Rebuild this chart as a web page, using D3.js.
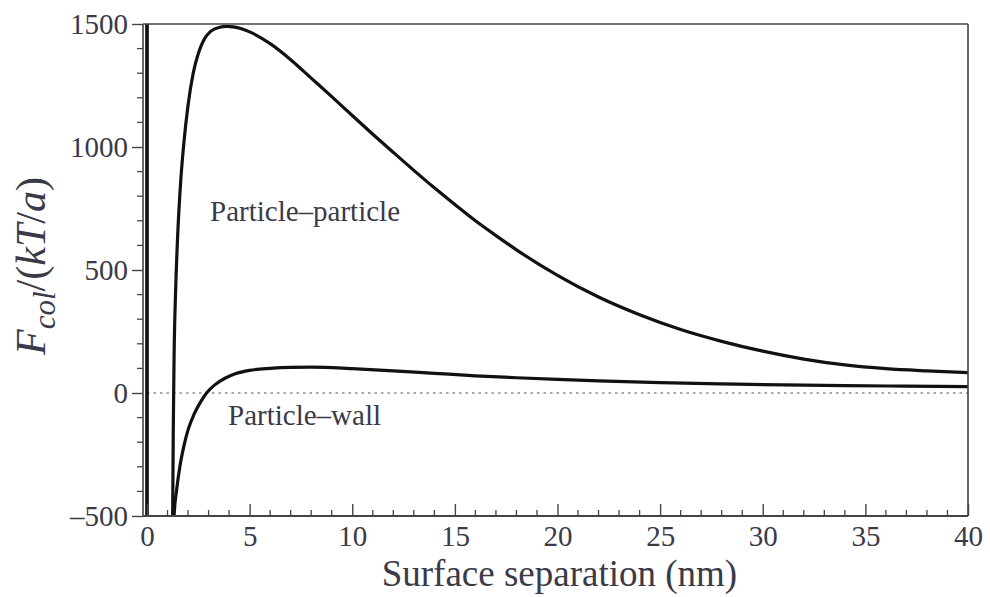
<!DOCTYPE html>
<html><head><meta charset="utf-8">
<script src="https://cdn.jsdelivr.net/npm/d3@7"></script>
<style>
html,body{margin:0;padding:0;background:#fff;}
svg{display:block;}
</style></head>
<body>
<svg id="chart" width="990" height="597"></svg>
<script>
// ---- data ----
const xTicks = [0, 5, 10, 15, 20, 25, 30, 35, 40];
const yTicks = [-500, 0, 500, 1000, 1500];
// particle–particle: surface separation (nm) / force (kT/a)
const ppX = [0, 0, 1.22, 1.25, 1.28, 1.32, 1.4, 1.5, 1.65, 1.8, 2.0, 2.25, 2.5, 2.8, 3.1, 3.5, 3.9, 4.2, 4.6, 5, 6, 7, 8, 9, 10, 11, 12, 13, 14, 15, 16, 17, 18, 20, 22, 24, 26, 28, 30, 32, 34, 36, 38, 40];
const ppY = [1700, -700, -700, -500, -150, 150, 430, 650, 870, 1020, 1170, 1300, 1380, 1440, 1470, 1486, 1490, 1488, 1481, 1468, 1420, 1355, 1280, 1205, 1128, 1052, 978, 905, 834, 766, 700, 640, 582, 478, 390, 318, 258, 210, 170, 138, 114, 99, 90, 83];
// particle–wall
const pwX = [0, 0, 1.25, 1.32, 1.45, 1.6, 1.8, 2.0, 2.3, 2.6, 2.9, 3.3, 3.8, 4.3, 5, 6, 7, 8, 9, 10, 12, 14, 16, 18, 20, 22, 25, 28, 31, 34, 37, 40];
const pwY = [1700, -700, -700, -500, -390, -300, -215, -150, -85, -38, 0, 33, 60, 78, 92, 100, 104, 105, 103, 99, 90, 80, 70, 62, 55, 49, 42, 37, 33, 30, 28, 26];
const seriesNames = ["Particle–particle", "Particle–wall"];

// ---- layout ----
const svg = d3.select("#chart");
const x = d3.scaleLinear().domain([0, 40]).range([147, 968]);
const y = d3.scaleLinear().domain([-500, 1500]).range([516, 24]);
const font = "'Liberation Serif','Times New Roman',serif";
const axisColor = "#444";
const textColor = "#3a3a48";

svg.append("defs").append("clipPath").attr("id", "clip")
  .append("rect").attr("x", 143).attr("y", 24).attr("width", 968 - 143).attr("height", 516 - 24);

// zero dotted line
svg.append("line")
  .attr("x1", x(0)).attr("x2", x(40)).attr("y1", y(0)).attr("y2", y(0))
  .attr("stroke", "#555").attr("stroke-width", 1.2).attr("stroke-dasharray", "2.5,4");

// curves
const line = d3.line().x(d => x(d[0])).y(d => y(d[1])).curve(d3.curveMonotoneX);
const lineRaw = d3.line().x(d => x(d[0])).y(d => y(d[1]));
function curvePath(xs, ys) {
  const pts = xs.map((v, i) => [v, ys[i]]);
  return lineRaw(pts.slice(0, 3)) + line(pts.slice(2)).replace(/^M/, "L");
}
const g = svg.append("g").attr("clip-path", "url(#clip)");
[[ppX, ppY], [pwX, pwY]].forEach(([xs, ys]) => {
  g.append("path").attr("d", curvePath(xs, ys))
    .attr("fill", "none").attr("stroke", "#111").attr("stroke-width", 3.2)
    .attr("stroke-linejoin", "round");
});

// frame
svg.append("line").attr("x1", 143).attr("x2", 968).attr("y1", y(1500)).attr("y2", y(1500))
  .attr("stroke", axisColor).attr("stroke-width", 1.6);
svg.append("line").attr("x1", 968).attr("x2", 968).attr("y1", 24).attr("y2", 516)
  .attr("stroke", axisColor).attr("stroke-width", 1.6);

// x axis (ticks inward)
const xAxis = d3.axisBottom(x).tickValues(xTicks).tickSizeInner(-12).tickSizeOuter(0).tickPadding(9);
const gx = svg.append("g").attr("transform", `translate(0,516)`).call(xAxis);
gx.select(".domain").attr("d", `M143,0H968`).attr("stroke", axisColor).attr("stroke-width", 2);
gx.selectAll(".tick line").attr("stroke", axisColor).attr("stroke-width", 1.4);
gx.selectAll(".tick text").attr("font-family", font).attr("font-size", 29).attr("fill", textColor);
const xMinor = d3.range(1, 40).filter(v => v % 5 !== 0);
gx.selectAll(".minor").data(xMinor).enter().append("line")
  .attr("x1", d => x(d)).attr("x2", d => x(d)).attr("y1", 0).attr("y2", -6)
  .attr("stroke", axisColor).attr("stroke-width", 1.3);

// y axis (ticks outward)
const yAxis = d3.axisLeft(y).tickValues(yTicks).tickSizeInner(11).tickSizeOuter(0).tickPadding(4)
  .tickFormat(d => d < 0 ? "\u2013" + Math.abs(d) : d);
const gy = svg.append("g").attr("transform", `translate(143,0)`).call(yAxis);
gy.select(".domain").attr("d", `M0,24V516`).attr("stroke", axisColor).attr("stroke-width", 1.6);
gy.selectAll(".tick line").attr("stroke", axisColor).attr("stroke-width", 1.4);
gy.selectAll(".tick text").attr("font-family", font).attr("font-size", 29).attr("fill", textColor);
const yMinor = d3.range(-400, 1500, 100).filter(v => v % 500 !== 0);
gy.selectAll(".minor").data(yMinor).enter().append("line")
  .attr("x1", 0).attr("x2", -6).attr("y1", d => y(d)).attr("y2", d => y(d))
  .attr("stroke", axisColor).attr("stroke-width", 1.3);

// axis titles
svg.append("text").attr("x", (x(-0.2) + x(40)) / 2 + 4).attr("y", 586)
  .attr("text-anchor", "middle").attr("font-family", font).attr("font-size", 37)
  .attr("fill", textColor).text("Surface separation (nm)");

const yt = svg.append("text").attr("transform", "translate(45,266) rotate(-90)")
  .attr("text-anchor", "middle").attr("font-family", font).attr("font-size", 42)
  .attr("fill", textColor);
yt.append("tspan").attr("font-style", "italic").text("F");
yt.append("tspan").attr("font-style", "italic").attr("font-size", 31).attr("dy", 10).text("col");
yt.append("tspan").attr("dy", -10).text("/(");
yt.append("tspan").attr("font-style", "italic").text("kT");
yt.append("tspan").text("/");
yt.append("tspan").attr("font-style", "italic").text("a");
yt.append("tspan").text(")");

// annotations
svg.append("text").attr("x", 210).attr("y", 221).attr("font-family", font).attr("font-size", 29)
  .attr("fill", textColor).text(seriesNames[0]);
svg.append("text").attr("x", 228).attr("y", 425).attr("font-family", font).attr("font-size", 29)
  .attr("fill", textColor).text(seriesNames[1]);
</script>
</body></html>
